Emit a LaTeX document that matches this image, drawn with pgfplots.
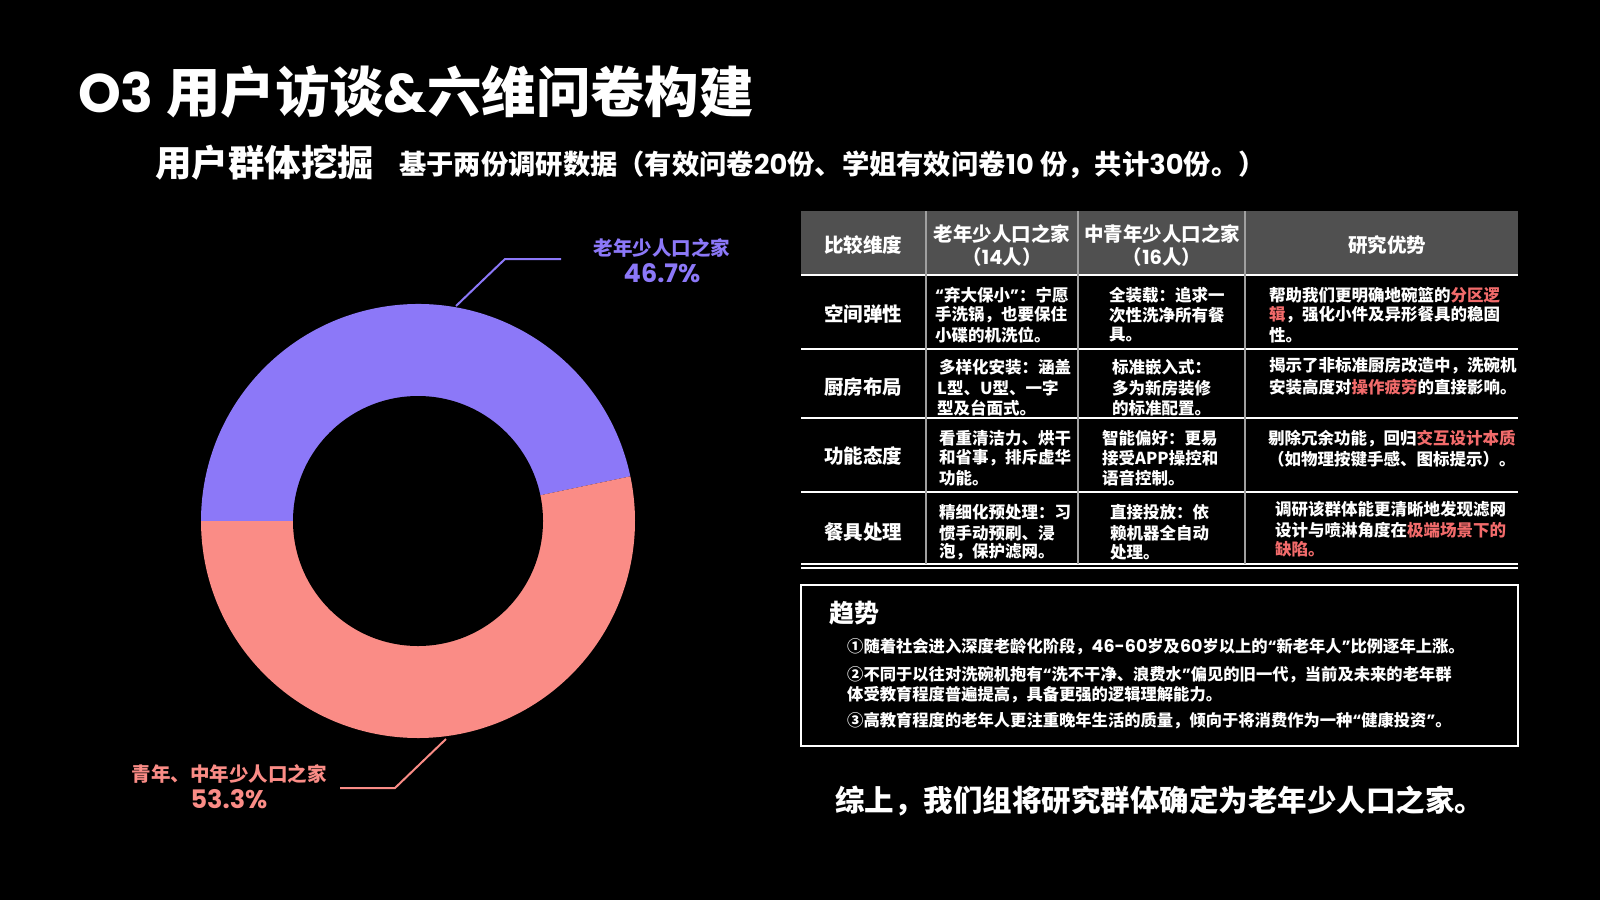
\documentclass[border=0pt]{standalone}
\usepackage{pgfplots}
\pgfplotsset{compat=1.18}
\usepackage{pgfplotstable}
\usepackage{fontspec}
\setmainfont{Noto Sans CJK SC}
\newfontfamily\pop{Poppins}
\definecolor{pur}{HTML}{8C78F8}
\definecolor{sal}{HTML}{FA8C86}
\definecolor{hdr}{HTML}{505050}
\definecolor{hl}{HTML}{F26B6B}
\definecolor{vln}{HTML}{A0A0A0}
\newcommand\lqq{{\pop“}}
\newcommand\rqq{{\pop”}}

\pgfplotstableread{
group value
old 46.7
young 53.3
}\piedata

\begin{document}
\begin{tikzpicture}[x=1pt,y=-1pt,
  hd/.style={text=white, font=\bfseries\fontsize{19.5}{20}\selectfont, inner sep=0},
  bd/.style={text=white, font=\bfseries\fontsize{16.5}{20}\selectfont, inner sep=0, anchor=west},
  tr/.style={text=white, font=\bfseries\fontsize{16.3}{20}\selectfont, inner sep=0, anchor=west}]
\path[fill=black,use as bounding box] (0,0) rectangle (1600,900);
\pgfplotstablegetelem{0}{value}\of\piedata \let\vold\pgfplotsretval
\pgfplotstablegetelem{1}{value}\of\piedata \let\vyoung\pgfplotsretval
\pgfmathsetmacro\aS{180-3.6*\vold}
\pgfmathsetmacro\aE{180+3.6*\vyoung}
\coordinate (dc) at (418,521);
\begin{axis}[at={(dc)}, anchor=center, scale only axis, width=434pt, height=434pt,
  xmin=-1,xmax=1,ymin=-1,ymax=1, hide axis, clip=false]
\fill[pur] (axis cs:0,0) -- ++(\aS:217pt) arc[start angle=\aS, end angle=180, radius=217pt] -- cycle;
\fill[sal] (axis cs:0,0) -- ++(180:217pt) arc[start angle=180, end angle=\aE, radius=217pt] -- cycle;
\fill[black] (axis cs:0,0) circle[radius=125pt];
\end{axis}

% leader lines and labels
\draw[pur, line width=2] (456,306) -- (505,259) -- (561,259);
\draw[sal, line width=2] (446,739) -- (395,788) -- (340,788);
\node[text=pur, inner sep=0, font=\bfseries\fontsize{19.5}{20}\selectfont] at (662,248) {老年少人口之家};
\node[text=pur, inner sep=0, font=\pop\bfseries\fontsize{25.5}{25}\selectfont] at (662,273) {46.7\%};
\node[text=sal, inner sep=0, font=\bfseries\fontsize{19.5}{20}\selectfont] at (229,774) {青年、中年少人口之家};
\node[text=sal, inner sep=0, font=\pop\bfseries\fontsize{25.5}{25}\selectfont] at (229,799) {53.3\%};

% title
\node[anchor=west, inner sep=0, text=white, font=\bfseries\fontsize{54.4}{54}\selectfont] at (78,92) {{\pop O3} 用户访谈{\pop\&}六维问卷构建};
\node[anchor=west, inner sep=0, text=white, font=\bfseries\fontsize{36.5}{36}\selectfont] at (155,163) {用户群体挖掘};
\node[anchor=west, inner sep=0, text=white, font=\bfseries\fontsize{27.3}{27}\selectfont] at (399,165) {基于两份调研数据（有效问卷{\pop 20}份、学姐有效问卷{\pop 10} 份，共计{\pop 30}份。）};

% table
\fill[hdr] (801,211) rectangle (1518,275);
\foreach \yy in {275,349,418,492} \draw[white, line width=2] (801,\yy) -- (1518,\yy);
\draw[white, line width=1.5] (801,564) -- (1518,564);
\draw[white, line width=1.5] (801,568) -- (1518,568);
\foreach \xx in {926,1078,1245} \draw[vln, line width=1.5] (\xx,211) -- (\xx,564);

\node[hd] at (863,245) {比较维度};
\node[hd] at (1002,234) {老年少人口之家};
\node[hd] at (1002,257) {（{\pop 14}人）};
\node[hd] at (1162,234) {中青年少人口之家};
\node[hd] at (1162,257) {（{\pop 16}人）};
\node[hd] at (1387,245) {研究优势};

\node[hd] at (863,314) {空间弹性};
\node[hd] at (863,387) {厨房布局};
\node[hd] at (863,456) {功能态度};
\node[hd] at (863,532) {餐具处理};

% row 1
\node[bd] at (935,295) {\lqq 弃大保小\rqq ：宁愿};
\node[bd] at (935,315) {手洗锅，也要保住};
\node[bd] at (935,335) {小碟的机洗位。};
\node[bd] at (1109,295) {全装载：追求一};
\node[bd] at (1109,315) {次性洗净所有餐};
\node[bd] at (1109,335) {具。};
\node[bd] at (1269,295) {帮助我们更明确地碗篮的\textcolor{hl}{分区逻}};
\node[bd] at (1269,315) {\textcolor{hl}{辑}，强化小件及异形餐具的稳固};
\node[bd] at (1269,335) {性。};
% row 2
\node[bd] at (939,367) {多样化安装：涵盖};
\node[bd] at (937,388) {L型、U型、一字};
\node[bd] at (937,408) {型及台面式。};
\node[bd] at (1112,367) {标准嵌入式：};
\node[bd] at (1112,388) {多为新房装修};
\node[bd] at (1112,408) {的标准配置。};
\node[bd] at (1269,366) {揭示了非标准厨房改造中，洗碗机};
\node[bd] at (1269,387) {安装高度对\textcolor{hl}{操作疲劳}的直接影响。};
% row 3
\node[bd] at (939,438) {看重清洁力、烘干};
\node[bd] at (939,458) {和省事，排斥虚华};
\node[bd] at (939,478) {功能。};
\node[bd] at (1102,438) {智能偏好：更易};
\node[bd] at (1102,458) {接受APP操控和};
\node[bd] at (1102,478) {语音控制。};
\node[bd] at (1268,439) {剔除冗余功能，回归\textcolor{hl}{交互设计本质}};
\node[bd] at (1268,459) {（如物理按键手感、图标提示）。};
% row 4
\node[bd] at (939,512) {精细化预处理：习};
\node[bd] at (939,533) {惯手动预刷、浸};
\node[bd] at (939,552) {泡，保护滤网。};
\node[bd] at (1110,512) {直接投放：依};
\node[bd] at (1110,533) {赖机器全自动};
\node[bd] at (1110,552) {处理。};
\node[bd] at (1275,509) {调研该群体能更清晰地发现滤网};
\node[bd] at (1275,530) {设计与喷淋角度在\textcolor{hl}{极端场景下的}};
\node[bd] at (1275,549) {\textcolor{hl}{缺陷。}};

% trend box
\draw[white, line width=1.5] (801,585) rectangle (1518,746);
\node[anchor=west, inner sep=0, text=white, font=\bfseries\fontsize{25}{25}\selectfont] at (829,613) {趋势};
\node[tr] at (847,647) {①随着社会进入深度老龄化阶段，{\pop\fontsize{17.5}{20}\selectfont 46-60}岁及{\pop\fontsize{17.5}{20}\selectfont 60}岁以上的\lqq 新老年人\rqq 比例逐年上涨。};
\node[tr] at (847,675) {②不同于以往对洗碗机抱有\lqq 洗不干净、浪费水\rqq 偏见的旧一代，当前及未来的老年群};
\node[tr] at (847,695) {体受教育程度普遍提高，具备更强的逻辑理解能力。};
\node[tr] at (847,721) {③高教育程度的老年人更注重晚年生活的质量，倾向于将消费作为一种\lqq 健康投资\rqq 。};

% conclusion
\node[anchor=west, inner sep=0, text=white, font=\bfseries\fontsize{29.5}{29}\selectfont] at (835,801) {综上，我们组将研究群体确定为老年少人口之家。};
\end{tikzpicture}
\end{document}
